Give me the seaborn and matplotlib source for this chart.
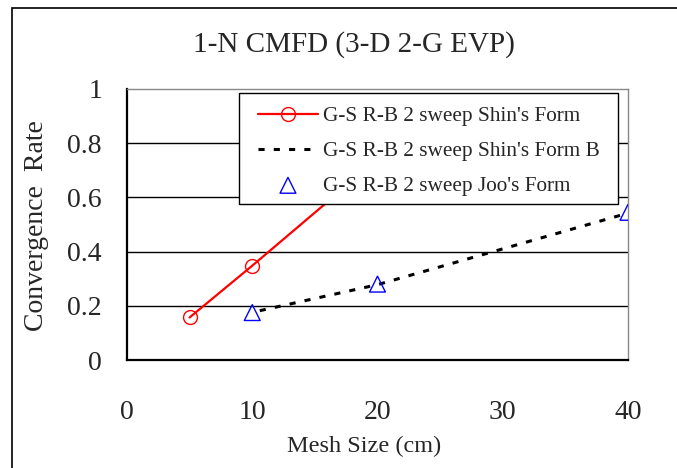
import numpy as np
import pandas as pd
import matplotlib
matplotlib.use("Agg")
import matplotlib.pyplot as plt
import seaborn as sns
from matplotlib.patches import Rectangle

# data
shin_x = [5, 10, 20]
shin_y = [0.157, 0.348, 0.74]
shinB_x = [10.6, 20, 40]
shinB_y = [0.182, 0.278, 0.542]
joo_x = [10, 20, 40]
joo_y = [0.175, 0.28, 0.545]

x_ticks = [0, 10, 20, 30, 40]
y_ticks = [0, 0.2, 0.4, 0.6, 0.8, 1]
y_tick_labels = ["0", "0.2", "0.4", "0.6", "0.8", "1"]

sns.set_style("white")
plt.rcParams['font.family'] = ['Liberation Serif', 'DejaVu Serif']

fig = plt.figure(figsize=(6.77, 4.68), dpi=100)
ax = fig.add_axes([127 / 677, 1 - 360 / 468, (628 - 127) / 677, (360 - 89) / 468])

# outer chart frame (only left/top visible in the original)
fig.patches.append(Rectangle((12 / 677, -0.2), 1.2, 1.2 - 8 / 468, transform=fig.transFigure,
                             fill=False, edgecolor='black', linewidth=1.2, clip_on=False))

df_shin = pd.DataFrame({"x": shin_x, "y": shin_y})
df_shinB = pd.DataFrame({"x": shinB_x, "y": shinB_y})
df_joo = pd.DataFrame({"x": joo_x, "y": joo_y})

for yv in [0.2, 0.4, 0.6, 0.8]:
    ax.axhline(yv, color='black', linewidth=1.0, zorder=1)

sns.lineplot(data=df_shin, x="x", y="y", ax=ax, color='red', linewidth=1.6,
             marker='o', markersize=10, markerfacecolor='none', markeredgecolor='red',
             markeredgewidth=1.0, label="G-S R-B 2 sweep Shin's Form", zorder=3)
sns.lineplot(data=df_shinB, x="x", y="y", ax=ax, color='black', linewidth=2.2,
             linestyle=(0, (2, 3)), label="G-S R-B 2 sweep Shin's Form B", zorder=3)
sns.scatterplot(data=df_joo, x="x", y="y", ax=ax, marker='^', s=130,
                facecolor='none', edgecolor='blue', linewidth=1.0,
                label="G-S R-B 2 sweep Joo's Form", zorder=4)

ax.set_xlim(0, 40)
ax.set_ylim(0, 1)
ax.set_xticks(x_ticks)
ax.set_yticks(y_ticks)
ax.set_yticklabels(y_tick_labels)
ax.tick_params(axis='x', direction='in', length=8, color='#555555', labelsize=20, pad=29)
ax.tick_params(axis='y', length=0, labelsize=20, pad=18)
ax.set_xlabel("")
ax.set_ylabel("")

for side in ['left', 'bottom']:
    ax.spines[side].set_color('black')
    ax.spines[side].set_linewidth(1.6)
for side in ['top', 'right']:
    ax.spines[side].set_visible(True)
    ax.spines[side].set_color('#888888')
    ax.spines[side].set_linewidth(1.0)

# legend box: white panel with black edge, entries placed inside
box = Rectangle(((239 - 127) / 501, (360 - 204) / 271), (618 - 239) / 501, (204 - 93) / 271,
                transform=ax.transAxes, facecolor='white', edgecolor='black',
                linewidth=1.0, zorder=5)
ax.add_patch(box)
leg = ax.legend(loc='upper left', bbox_to_anchor=((249.5 - 127) / 501, (360 - 98) / 271),
                fontsize=15.3, frameon=False, handlelength=2.82, handletextpad=0.25,
                borderpad=0.4, labelspacing=0.7, borderaxespad=0)
leg.set_zorder(6)

fig.text(354 / 677, 1 - 45 / 468, "1-N CMFD (3-D 2-G EVP)", fontsize=21,
         ha='center', va='center')
fig.text(364 / 677, 1 - 446 / 468, "Mesh Size (cm)", fontsize=17.5,
         ha='center', va='center')
fig.text(37 / 677, 1 - 226 / 468, "Convergence  Rate", fontsize=20,
         ha='center', va='center', rotation=90)

fig.savefig("out.png", dpi=100)
